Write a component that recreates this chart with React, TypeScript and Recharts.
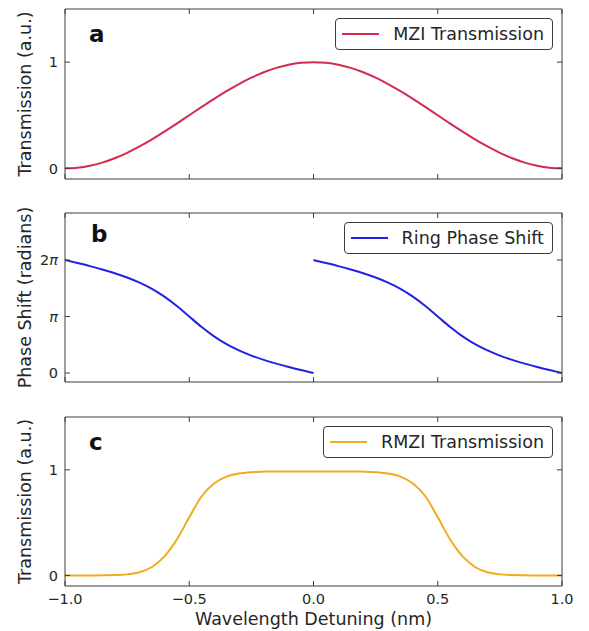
import React from 'react';
import { LineChart, Line, XAxis, YAxis, Legend } from 'recharts';

// ---------- data ----------
const detuning = [
  -1, -0.95, -0.9, -0.85, -0.8, -0.75, -0.7, -0.65, -0.6, -0.55, -0.5,
  -0.45, -0.4, -0.35, -0.3, -0.25, -0.2, -0.15, -0.1, -0.05, 0,
  0.05, 0.1, 0.15, 0.2, 0.25, 0.3, 0.35, 0.4, 0.45, 0.5,
  0.55, 0.6, 0.65, 0.7, 0.75, 0.8, 0.85, 0.9, 0.95, 1,
];

const mziTransmission = [
  0, 0.0062, 0.0245, 0.0545, 0.0955, 0.1464, 0.2061, 0.273, 0.3455, 0.4218, 0.5,
  0.5782, 0.6545, 0.727, 0.7939, 0.8536, 0.9045, 0.9455, 0.9755, 0.9938, 1,
  0.9938, 0.9755, 0.9455, 0.9045, 0.8536, 0.7939, 0.727, 0.6545, 0.5782, 0.5,
  0.4218, 0.3455, 0.273, 0.2061, 0.1464, 0.0955, 0.0545, 0.0245, 0.0062, 0,
];

const ringDetuningLeft = [
  -1, -0.95, -0.9, -0.85, -0.8, -0.75, -0.7, -0.65, -0.6, -0.55, -0.5,
  -0.45, -0.4, -0.35, -0.3, -0.25, -0.2, -0.15, -0.1, -0.05, 0,
];
const ringDetuningRight = [
  0, 0.05, 0.1, 0.15, 0.2, 0.25, 0.3, 0.35, 0.4, 0.45, 0.5,
  0.55, 0.6, 0.65, 0.7, 0.75, 0.8, 0.85, 0.9, 0.95, 1,
];
const ringPhase = [
  6.283, 6.117, 5.945, 5.759, 5.553, 5.314, 5.029, 4.68, 4.247, 3.726, 3.142,
  2.557, 2.036, 1.603, 1.254, 0.969, 0.73, 0.524, 0.338, 0.166, 0,
];

const rmziTransmission = [
  0, 0, 0, 0.001, 0.003, 0.01, 0.03, 0.08, 0.18, 0.34, 0.55,
  0.75, 0.87, 0.935, 0.965, 0.978, 0.983, 0.985, 0.985, 0.985, 0.985,
  0.985, 0.985, 0.985, 0.983, 0.978, 0.965, 0.935, 0.87, 0.75, 0.55,
  0.34, 0.18, 0.08, 0.03, 0.01, 0.003, 0.001, 0, 0, 0,
];

const xTicks = [-1, -0.5, 0, 0.5, 1];
const xTickLabels = ['\u22121.0', '\u22120.5', '0.0', '0.5', '1.0'];
const transTicks = [0, 1];
const transTickLabels = ['0', '1'];
const phaseTicks = [0, 3.14159, 6.28319];
const phaseTickPrefix = ['0', '', '2'];
const phaseTickSymbol = ['', '\u03c0', '\u03c0'];

const mziData = detuning.map((x, i) => ({ x, value: mziTransmission[i] }));
const ringLeftData = ringDetuningLeft.map((x, i) => ({ x, phase: ringPhase[i] }));
const ringRightData = ringDetuningRight.map((x, i) => ({ x, phase: ringPhase[i] }));
const rmziData = detuning.map((x, i) => ({ x, value: rmziTransmission[i] }));

// ---------- style ----------
const FONT = '"DejaVu Sans", Verdana, sans-serif';
const FRAME = '#3c3c3c';
const TEXT = '#262626';
const TICK = 5;
const MZI_COLOR = '#d42a4f';
const RING_COLOR = '#2222e4';
const RMZI_COLOR = '#f2ab1e';

// ---------- tick renderers ----------
const bottomTick = (showLabel: boolean) => (props: any) => {
  const { x, y, index } = props;
  return (
    <g>
      <line x1={x} x2={x} y1={y} y2={y - TICK} stroke={FRAME} strokeWidth={1} />
      {showLabel && (
        <text x={x} y={y + 18} textAnchor="middle" fontSize={14.5} fill={TEXT} fontFamily={FONT}>
          {xTickLabels[index]}
        </text>
      )}
    </g>
  );
};

const topTick = (props: any) => {
  const { x, y } = props;
  return <line x1={x} x2={x} y1={y} y2={y + TICK} stroke={FRAME} strokeWidth={1} />;
};

const rightTick = (props: any) => {
  const { x, y } = props;
  return <line x1={x} x2={x - TICK} y1={y} y2={y} stroke={FRAME} strokeWidth={1} />;
};

const leftTransTick = (props: any) => {
  const { x, y, index } = props;
  return (
    <g>
      <line x1={x} x2={x + TICK} y1={y} y2={y} stroke={FRAME} strokeWidth={1} />
      <text x={x - 7} y={y} dy="0.36em" textAnchor="end" fontSize={14.5} fill={TEXT} fontFamily={FONT}>
        {transTickLabels[index]}
      </text>
    </g>
  );
};

const leftPhaseTick = (props: any) => {
  const { x, y, index } = props;
  return (
    <g>
      <line x1={x} x2={x + TICK} y1={y} y2={y} stroke={FRAME} strokeWidth={1} />
      <text x={x - 7} y={y} dy="0.36em" textAnchor="end" fontSize={14.5} fill={TEXT} fontFamily={FONT}>
        {phaseTickPrefix[index]}
        {phaseTickSymbol[index] && <tspan fontStyle="italic">{phaseTickSymbol[index]}</tspan>}
      </text>
    </g>
  );
};

// ---------- labels ----------
const YLabel = (props: any) => {
  const { viewBox, text } = props;
  const cx = viewBox.x + viewBox.width - 40;
  const cy = viewBox.y + viewBox.height / 2;
  return (
    <text
      x={cx}
      y={cy}
      dy="0.35em"
      textAnchor="middle"
      transform={`rotate(-90 ${cx} ${cy})`}
      fontSize={17.5}
      fill={TEXT}
      fontFamily={FONT}
    >
      {text}
    </text>
  );
};

const XLabel = (props: any) => {
  const { viewBox, text } = props;
  const cx = viewBox.x + viewBox.width / 2;
  return (
    <text x={cx} y={viewBox.y + 39} textAnchor="middle" fontSize={17.5} fill={TEXT} fontFamily={FONT}>
      {text}
    </text>
  );
};

// ---------- legend ----------
const LegendBox = ({ color, text }: { color: string; text: string }) => (
  <div
    style={{
      boxSizing: 'border-box',
      height: 32,
      border: `1px solid ${FRAME}`,
      borderRadius: 4,
      background: '#fff',
      display: 'flex',
      alignItems: 'center',
      paddingLeft: 6,
      paddingRight: 8,
      fontFamily: FONT,
      fontSize: 17.5,
      color: TEXT,
      whiteSpace: 'nowrap',
    }}
  >
    <svg width={37} height={4} style={{ display: 'block' }}>
      <line x1={0} x2={37} y1={2} y2={2} stroke={color} strokeWidth={2} />
    </svg>
    <span style={{ marginLeft: 14, lineHeight: '20px' }}>{text}</span>
  </div>
);

const legendWrap: React.CSSProperties = { top: 18, right: 36, left: 'auto', width: 'auto', height: 'auto' };

const MARGIN_AB = { top: 8, right: 26, bottom: 20, left: 64 };

export default function App() {
  return (
    <div style={{ position: 'absolute', left: 0, top: 0, width: 589, height: 631, background: '#fff' }}>
      {/* panel a */}
      <div style={{ position: 'absolute', left: 0, top: 0 }}>
        <LineChart width={589} height={200} data={mziData} margin={MARGIN_AB}>
          <XAxis
            xAxisId="b"
            type="number"
            dataKey="x"
            domain={[-1, 1]}
            allowDataOverflow
            ticks={xTicks}
            interval={0}
            height={1}
            tickSize={0}
            tickMargin={0}
            tickLine={false}
            axisLine={{ stroke: FRAME }}
            tick={bottomTick(false)}
          />
          <XAxis
            xAxisId="t"
            orientation="top"
            type="number"
            dataKey="x"
            domain={[-1, 1]}
            allowDataOverflow
            ticks={xTicks}
            interval={0}
            height={1}
            tickSize={0}
            tickMargin={0}
            tickLine={false}
            axisLine={{ stroke: FRAME }}
            tick={topTick}
          />
          <YAxis
            yAxisId="l"
            type="number"
            domain={[-0.1, 1.5]}
            allowDataOverflow
            ticks={transTicks}
            interval={0}
            width={1}
            tickSize={0}
            tickMargin={0}
            tickLine={false}
            axisLine={{ stroke: FRAME }}
            tick={leftTransTick}
            label={<YLabel text="Transmission (a.u.)" />}
          />
          <YAxis
            yAxisId="r"
            orientation="right"
            type="number"
            domain={[-0.1, 1.5]}
            allowDataOverflow
            ticks={transTicks}
            interval={0}
            width={1}
            tickSize={0}
            tickMargin={0}
            tickLine={false}
            axisLine={{ stroke: FRAME }}
            tick={rightTick}
          />
          <Line
            xAxisId="b"
            yAxisId="l"
            type="monotone"
            dataKey="value"
            stroke={MZI_COLOR}
            strokeWidth={2}
            dot={false}
            isAnimationActive={false}
          />
          <Legend
            layout="vertical"
            align="center"
            verticalAlign="middle"
            wrapperStyle={legendWrap}
            content={() => <LegendBox color={MZI_COLOR} text="MZI Transmission" />}
          />
        </LineChart>
      </div>

      {/* panel b */}
      <div style={{ position: 'absolute', left: 0, top: 204 }}>
        <LineChart width={589} height={199} margin={MARGIN_AB}>
          <XAxis
            xAxisId="b"
            type="number"
            dataKey="x"
            domain={[-1, 1]}
            allowDataOverflow
            ticks={xTicks}
            interval={0}
            height={1}
            tickSize={0}
            tickMargin={0}
            tickLine={false}
            axisLine={{ stroke: FRAME }}
            tick={bottomTick(false)}
          />
          <XAxis
            xAxisId="t"
            orientation="top"
            type="number"
            dataKey="x"
            domain={[-1, 1]}
            allowDataOverflow
            ticks={xTicks}
            interval={0}
            height={1}
            tickSize={0}
            tickMargin={0}
            tickLine={false}
            axisLine={{ stroke: FRAME }}
            tick={topTick}
          />
          <YAxis
            yAxisId="l"
            type="number"
            domain={[-0.5, 8.9]}
            allowDataOverflow
            ticks={phaseTicks}
            interval={0}
            width={1}
            tickSize={0}
            tickMargin={0}
            tickLine={false}
            axisLine={{ stroke: FRAME }}
            tick={leftPhaseTick}
            label={<YLabel text="Phase Shift (radians)" />}
          />
          <YAxis
            yAxisId="r"
            orientation="right"
            type="number"
            domain={[-0.5, 8.9]}
            allowDataOverflow
            ticks={phaseTicks}
            interval={0}
            width={1}
            tickSize={0}
            tickMargin={0}
            tickLine={false}
            axisLine={{ stroke: FRAME }}
            tick={rightTick}
          />
          <Line
            xAxisId="b"
            yAxisId="l"
            data={ringLeftData}
            type="monotone"
            dataKey="phase"
            stroke={RING_COLOR}
            strokeWidth={2}
            dot={false}
            isAnimationActive={false}
          />
          <Line
            xAxisId="b"
            yAxisId="l"
            data={ringRightData}
            type="monotone"
            dataKey="phase"
            stroke={RING_COLOR}
            strokeWidth={2}
            dot={false}
            isAnimationActive={false}
            legendType="none"
          />
          <Legend
            layout="vertical"
            align="center"
            verticalAlign="middle"
            wrapperStyle={legendWrap}
            content={() => <LegendBox color={RING_COLOR} text="Ring Phase Shift" />}
          />
        </LineChart>
      </div>

      {/* panel c */}
      <div style={{ position: 'absolute', left: 0, top: 408 }}>
        <LineChart width={589} height={223} data={rmziData} margin={{ top: 8, right: 26, bottom: 44, left: 64 }}>
          <XAxis
            xAxisId="b"
            type="number"
            dataKey="x"
            domain={[-1, 1]}
            allowDataOverflow
            ticks={xTicks}
            interval={0}
            height={1}
            tickSize={0}
            tickMargin={0}
            tickLine={false}
            axisLine={{ stroke: FRAME }}
            tick={bottomTick(true)}
            label={<XLabel text="Wavelength Detuning (nm)" />}
          />
          <XAxis
            xAxisId="t"
            orientation="top"
            type="number"
            dataKey="x"
            domain={[-1, 1]}
            allowDataOverflow
            ticks={xTicks}
            interval={0}
            height={1}
            tickSize={0}
            tickMargin={0}
            tickLine={false}
            axisLine={{ stroke: FRAME }}
            tick={topTick}
          />
          <YAxis
            yAxisId="l"
            type="number"
            domain={[-0.1, 1.5]}
            allowDataOverflow
            ticks={transTicks}
            interval={0}
            width={1}
            tickSize={0}
            tickMargin={0}
            tickLine={false}
            axisLine={{ stroke: FRAME }}
            tick={leftTransTick}
            label={<YLabel text="Transmission (a.u.)" />}
          />
          <YAxis
            yAxisId="r"
            orientation="right"
            type="number"
            domain={[-0.1, 1.5]}
            allowDataOverflow
            ticks={transTicks}
            interval={0}
            width={1}
            tickSize={0}
            tickMargin={0}
            tickLine={false}
            axisLine={{ stroke: FRAME }}
            tick={rightTick}
          />
          <Line
            xAxisId="b"
            yAxisId="l"
            type="monotone"
            dataKey="value"
            stroke={RMZI_COLOR}
            strokeWidth={2}
            dot={false}
            isAnimationActive={false}
          />
          <Legend
            layout="vertical"
            align="center"
            verticalAlign="middle"
            wrapperStyle={legendWrap}
            content={() => <LegendBox color={RMZI_COLOR} text="RMZI Transmission" />}
          />
        </LineChart>
      </div>

      {/* panel letters */}
      <svg width={589} height={631} style={{ position: 'absolute', left: 0, top: 0, pointerEvents: 'none' }}>
        <text x={89} y={42} fontSize={23} fontWeight="bold" fill="#111" fontFamily={FONT}>a</text>
        <text x={91} y={242} fontSize={23} fontWeight="bold" fill="#111" fontFamily={FONT}>b</text>
        <text x={89} y={450} fontSize={23} fontWeight="bold" fill="#111" fontFamily={FONT}>c</text>
      </svg>
    </div>
  );
}
